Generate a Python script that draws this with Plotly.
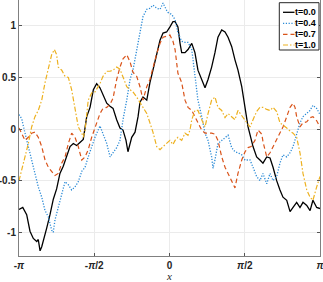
import numpy as np
import plotly.graph_objects as go

# ---------------- data (x in units of pi) ----------------
x_t00 = [-1.0, -0.975, -0.949, -0.927, -0.905, -0.882, -0.872, -0.860, -0.849, -0.839,
         -0.816, -0.794, -0.772, -0.750, -0.728, -0.706, -0.683, -0.661, -0.639, -0.617,
         -0.595, -0.573, -0.550, -0.528, -0.506, -0.484, -0.462, -0.442, -0.417, -0.395,
         -0.375, -0.351, -0.329, -0.309, -0.289, -0.276, -0.251, -0.229, -0.209, -0.196,
         -0.176, -0.151, -0.130, -0.110, -0.085, -0.063, -0.043, -0.019, 0.003, 0.023,
         0.037, 0.056, 0.070, 0.081, 0.103, 0.123, 0.148, 0.169, 0.189, 0.214,
         0.236, 0.256, 0.280, 0.302, 0.322, 0.347, 0.369, 0.389, 0.413, 0.435,
         0.455, 0.480, 0.502, 0.522, 0.555, 0.579, 0.601, 0.621, 0.646, 0.668,
         0.688, 0.712, 0.734, 0.754, 0.779, 0.801, 0.821, 0.845, 0.867, 0.887,
         0.912, 0.934, 0.953, 0.978, 1.0]
y_t00 = [-0.78, -0.76, -0.83, -0.99, -1.06, -1.09, -1.07, -1.18, -1.14, -1.09,
         -0.96, -0.83, -0.68, -0.58, -0.43, -0.36, -0.27, -0.17, -0.14, -0.16,
         -0.13, -0.10, 0.12, 0.21, 0.38, 0.44, 0.40, 0.34, 0.25, 0.22,
         0.20, 0.09, 0.01, -0.01, -0.11, -0.22, -0.08, -0.03, 0.12, 0.26,
         0.31, 0.28, 0.45, 0.57, 0.73, 0.86, 0.93, 0.94, 0.99, 1.04,
         1.04, 0.99, 0.83, 0.74, 0.74, 0.77, 0.83, 0.74, 0.57, 0.48,
         0.40, 0.48, 0.60, 0.74, 0.89, 0.96, 0.94, 0.89, 0.80, 0.67,
         0.57, 0.41, 0.18, 0.02, -0.17, -0.27, -0.30, -0.33, -0.27, -0.28,
         -0.37, -0.50, -0.59, -0.66, -0.69, -0.80, -0.76, -0.71, -0.76, -0.71,
         -0.74, -0.79, -0.69, -0.76, -0.77]

x_t04 = [-1.0, -0.982, -0.960, -0.938, -0.916, -0.894, -0.872, -0.849, -0.827, -0.805,
         -0.783, -0.772, -0.761, -0.750, -0.728, -0.706, -0.694, -0.672, -0.650, -0.628,
         -0.606, -0.583, -0.561, -0.540, -0.517, -0.495, -0.462, -0.442, -0.417, -0.395,
         -0.375, -0.351, -0.329, -0.309, -0.284, -0.262, -0.243, -0.218, -0.196, -0.176,
         -0.151, -0.130, -0.110, -0.085, -0.063, -0.043, -0.019, -0.010, 0.015, 0.037,
         0.056, 0.081, 0.103, 0.123, 0.148, 0.169, 0.189, 0.214, 0.236, 0.256,
         0.280, 0.289, 0.302, 0.322, 0.347, 0.369, 0.389, 0.413, 0.435, 0.455,
         0.480, 0.502, 0.535, 0.555, 0.579, 0.601, 0.621, 0.646, 0.668, 0.688,
         0.712, 0.734, 0.754, 0.779, 0.801, 0.821, 0.845, 0.867, 0.887, 0.912,
         0.934, 0.953, 0.978, 1.0]
y_t04 = [0.14, 0.10, -0.04, -0.17, -0.30, -0.43, -0.56, -0.66, -0.79, -0.85,
         -0.98, -1.00, -0.88, -0.82, -0.69, -0.56, -0.51, -0.54, -0.59, -0.56,
         -0.51, -0.41, -0.37, -0.27, -0.17, -0.08, 0.03, -0.04, -0.14, -0.27,
         -0.23, -0.18, -0.11, 0.09, 0.28, 0.48, 0.57, 0.77, 0.93, 1.09,
         1.16, 1.17, 1.20, 1.17, 1.16, 1.22, 1.15, 1.13, 1.11, 1.06,
         0.93, 0.85, 0.84, 0.84, 0.77, 0.51, 0.28, 0.12, -0.04, -0.11,
         -0.27, -0.38, -0.30, -0.14, -0.11, -0.08, -0.06, -0.18, -0.22, -0.23,
         -0.25, -0.30, -0.30, -0.37, -0.46, -0.50, -0.43, -0.53, -0.43, -0.50,
         -0.46, -0.33, -0.25, -0.27, -0.23, -0.17, -0.04, 0.06, 0.12, 0.15,
         0.18, 0.23, 0.20, 0.14]

x_t07 = [-1.0, -0.982, -0.960, -0.938, -0.916, -0.894, -0.872, -0.849, -0.827, -0.805,
         -0.783, -0.761, -0.739, -0.716, -0.694, -0.672, -0.650, -0.628, -0.606, -0.583,
         -0.561, -0.540, -0.517, -0.495, -0.462, -0.442, -0.417, -0.395, -0.375, -0.351,
         -0.329, -0.309, -0.284, -0.262, -0.243, -0.218, -0.196, -0.176, -0.151, -0.130,
         -0.110, -0.085, -0.063, -0.043, -0.019, 0.003, 0.023, 0.037, 0.056, 0.081,
         0.103, 0.123, 0.148, 0.169, 0.189, 0.214, 0.236, 0.256, 0.280, 0.302,
         0.322, 0.347, 0.369, 0.389, 0.413, 0.435, 0.455, 0.480, 0.502, 0.522,
         0.542, 0.568, 0.588, 0.613, 0.621, 0.646, 0.668, 0.688, 0.712, 0.734,
         0.754, 0.779, 0.801, 0.821, 0.834, 0.845, 0.867, 0.887, 0.912, 0.934,
         0.953, 0.978, 1.0]
y_t07 = [0.01, -0.04, -0.11, -0.08, -0.04, -0.03, -0.08, -0.17, -0.30, -0.37,
         -0.41, -0.45, -0.43, -0.33, -0.27, -0.14, -0.04, -0.08, -0.17, -0.30,
         -0.27, -0.20, -0.08, 0.02, 0.15, 0.20, 0.21, 0.24, 0.30, 0.48,
         0.60, 0.68, 0.72, 0.65, 0.55, 0.51, 0.41, 0.28, 0.41, 0.48,
         0.60, 0.73, 0.83, 0.89, 0.90, 0.91, 0.85, 0.77, 0.54, 0.45,
         0.28, 0.21, 0.18, 0.12, 0.06, -0.01, -0.04, -0.04, -0.04, -0.05,
         -0.11, -0.27, -0.37, -0.43, -0.50, -0.57, -0.43, -0.30, -0.22, -0.18,
         -0.17, -0.11, -0.01, -0.05, -0.12, -0.27, -0.23, -0.17, -0.11, -0.04,
         0.02, 0.12, 0.21, 0.25, 0.21, 0.12, 0.02, 0.06, 0.07, 0.11,
         0.12, 0.08, 0.02]

x_t10 = [-1.0, -0.982, -0.960, -0.938, -0.916, -0.894, -0.872, -0.849, -0.827, -0.805,
         -0.783, -0.765, -0.750, -0.739, -0.716, -0.694, -0.672, -0.650, -0.628, -0.606,
         -0.583, -0.573, -0.561, -0.540, -0.517, -0.495, -0.462, -0.442, -0.417, -0.395,
         -0.375, -0.351, -0.329, -0.309, -0.284, -0.262, -0.243, -0.218, -0.196, -0.176,
         -0.151, -0.130, -0.110, -0.085, -0.063, -0.043, -0.019, 0.003, 0.023, 0.037,
         0.056, 0.081, 0.103, 0.123, 0.136, 0.148, 0.169, 0.189, 0.214, 0.236,
         0.256, 0.280, 0.302, 0.322, 0.347, 0.369, 0.389, 0.413, 0.435, 0.455,
         0.480, 0.502, 0.522, 0.535, 0.555, 0.579, 0.601, 0.621, 0.646, 0.668,
         0.688, 0.712, 0.734, 0.754, 0.779, 0.801, 0.821, 0.845, 0.867, 0.887,
         0.912, 0.934, 0.953, 0.978, 1.0]
y_t10 = [-0.50, -0.40, -0.27, -0.14, 0.02, 0.12, 0.18, 0.28, 0.45, 0.60,
         0.72, 0.77, 0.72, 0.60, 0.57, 0.51, 0.50, 0.38, 0.21, 0.02,
         -0.04, -0.08, -0.01, 0.28, 0.35, 0.36, 0.44, 0.51, 0.56, 0.56,
         0.57, 0.60, 0.58, 0.50, 0.41, 0.38, 0.36, 0.31, 0.26, 0.21,
         0.15, 0.06, -0.03, -0.17, -0.20, -0.17, -0.14, -0.11, -0.15, -0.11,
         -0.08, -0.11, -0.04, -0.06, -0.01, 0.09, 0.18, 0.18, 0.09, 0.02,
         0.15, 0.28, 0.31, 0.21, 0.18, 0.11, 0.15, 0.12, 0.09, 0.18,
         0.13, 0.09, 0.04, 0.02, 0.09, 0.17, 0.21, 0.21, 0.19, 0.18,
         0.21, 0.17, 0.06, 0.04, 0.01, -0.02, -0.04, -0.08, -0.23, -0.43,
         -0.59, -0.66, -0.69, -0.56, -0.46]

names = ["t=0.0", "t=0.4", "t=0.7", "t=1.0"]
colors = ["#000000", "#2a8ad6", "#D95319", "#EDB120"]
dashes = ["solid", "1.2px,1.6px", "4.5px,3px", "5px,2px,1.5px,2px"]
widths = [1.3, 1.3, 1.2, 1.2]

x_tickvals = [-1.0, -0.5, 0.0, 0.5, 1.0]          # in units of pi
x_ticktext = ["-<i>π</i>", "-<i>π</i>/2", "0", "<i>π</i>/2", "<i>π</i>"]
y_tickvals = [-1.0, -0.5, 0.0, 0.5, 1.0]
y_ticktext = ["-1", "-0.5", "0", "0.5", "1"]

series = [(x_t00, y_t00), (x_t04, y_t04), (x_t07, y_t07), (x_t10, y_t10)]
for xs, ys in series:
    assert len(xs) == len(ys), (len(xs), len(ys))

# ---------------- figure ----------------
W, H = 323, 282
ML, MR, MT, MB = 19, 3, 0, 26
PW, PH = W - ML - MR, H - MT - MB

fig = go.Figure()
for (xs, ys), nm, c, d, w in zip(series, names, colors, dashes, widths):
    fig.add_trace(go.Scatter(
        x=np.array(xs) * np.pi, y=ys, mode="lines", name=nm,
        line=dict(color=c, width=w, dash=d),
        showlegend=False, hoverinfo="skip"))

tick_font = dict(family="Liberation Sans, Arial, sans-serif", size=10,
                 color="#262626", weight="bold")

fig.update_layout(
    width=W, height=H,
    margin=dict(l=ML, r=MR, t=MT, b=MB, autoexpand=False),
    plot_bgcolor="white", paper_bgcolor="white",
    showlegend=False,
)
fig.update_xaxes(
    automargin=False, ticklabeloverflow="allow",
    range=[-np.pi, np.pi],
    tickvals=[v * np.pi for v in x_tickvals], ticktext=x_ticktext,
    ticks="inside", ticklen=3, tickcolor="#555555",
    showline=True, linecolor="#808080", linewidth=1, mirror=False,
    showgrid=True, gridcolor="#ebebeb", gridwidth=1, zeroline=False,
    tickfont=tick_font,
    title=dict(text="<i>x</i>", standoff=0,
               font=dict(family="Liberation Serif, serif", size=11, color="#262626")),
)
fig.update_yaxes(
    automargin=False, ticklabeloverflow="allow",
    range=[-1.23, 1.25],
    tickvals=y_tickvals, ticktext=y_ticktext,
    ticks="inside", ticklen=3, tickcolor="#555555",
    showline=True, linecolor="#808080", linewidth=1, mirror="ticks",
    showgrid=True, gridcolor="#ebebeb", gridwidth=1, zeroline=False,
    tickfont=tick_font,
)

# ---------------- legend (drawn in paper coords) ----------------
def px2x(px):
    return (px - ML) / PW

def px2y(py):
    return 1 - (py - MT) / PH

box = dict(x0=279.3, x1=319.0, y0=2.7, y1=50.0)
fig.add_shape(type="rect", xref="paper", yref="paper",
              x0=px2x(box["x0"]), x1=px2x(box["x1"]),
              y0=px2y(box["y1"]), y1=px2y(box["y0"]),
              line=dict(color="#262626", width=1), fillcolor="white", layer="above")
row_y = [12.3, 23.3, 34.3, 45.0]
for ry, nm, c, d, w in zip(row_y, names, colors, dashes, widths):
    fig.add_shape(type="line", xref="paper", yref="paper",
                  x0=px2x(283), x1=px2x(294.5), y0=px2y(ry), y1=px2y(ry),
                  line=dict(color=c, width=w, dash=d),
                  layer="above")
    fig.add_annotation(xref="paper", yref="paper", x=px2x(295.5), y=px2y(ry),
                       text=nm, showarrow=False, xanchor="left", yanchor="middle",
                       xshift=-2, borderpad=0,
                       font=dict(family="Liberation Sans, Arial, sans-serif", size=9,
                                 color="#000000", weight="bold"))

fig.write_html("out.html", config={"displayModeBar": False},
               post_script="document.body.style.margin='0';document.body.style.overflow='hidden';")
